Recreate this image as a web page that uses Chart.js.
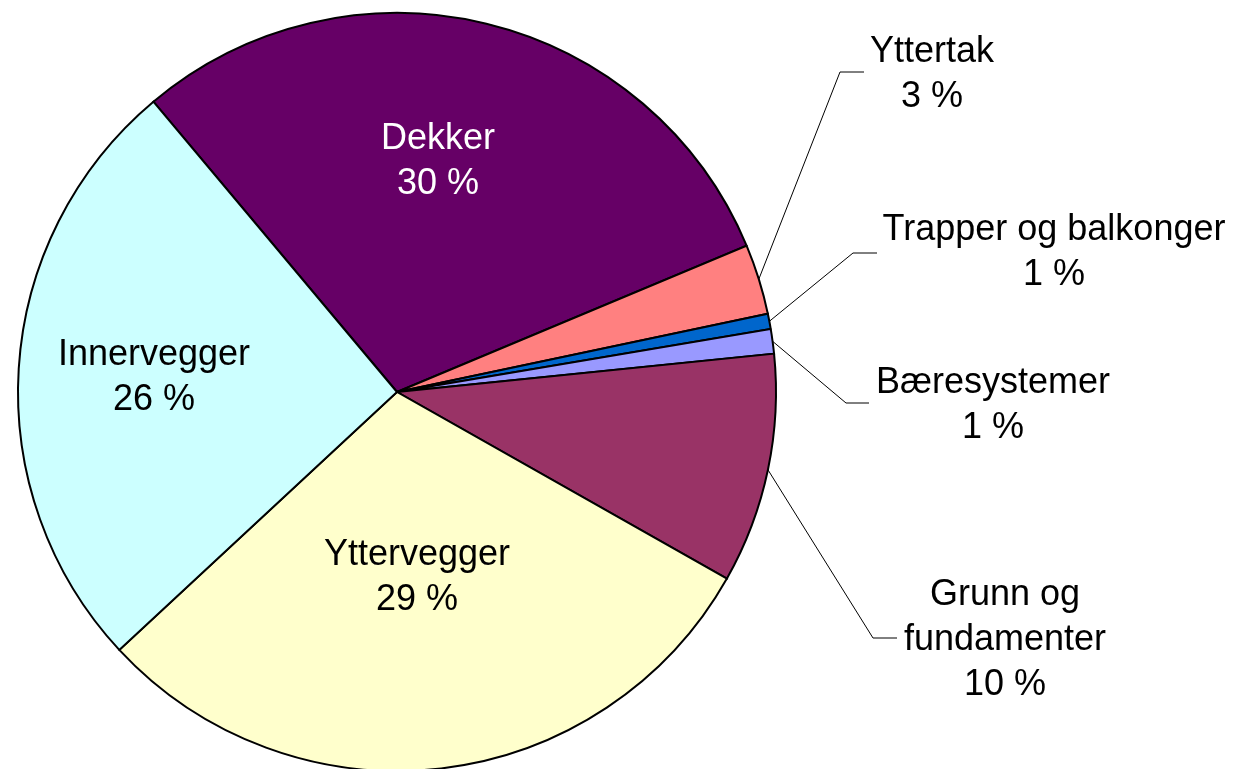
<!DOCTYPE html>
<html>
<head>
<meta charset="utf-8">
<script src="https://cdn.jsdelivr.net/npm/chart.js@4/dist/chart.umd.min.js"></script>
<style>
  html, body { margin: 0; padding: 0; background: #fff; overflow: hidden; }
  #wrap { position: absolute; left: 0; top: 0; width: 1238px; height: 772px; }
</style>
</head>
<body>
<div id="wrap"><canvas id="pie"></canvas></div>
<script>
// slices, clockwise from the Dekker slice
const labels = ['Dekker', 'Yttertak', 'Trapper og balkonger', 'Bæresystemer', 'Grunn og fundamenter', 'Yttervegger', 'Innervegger'];
const values = [29.8, 3.0, 0.65, 1.05, 9.8, 29.9, 25.8];
const pctText = ['30 %', '3 %', '1 %', '1 %', '10 %', '29 %', '26 %'];
const colors = ['#660066', '#FF8080', '#0066CC', '#9999FF', '#993366', '#FFFFCC', '#CCFFFF'];

// label placement: lines, centre x, first baseline, text colour, optional leader (elbow + stub end)
const labelLayout = [
  { lines: ['Dekker'], x: 438, y: 149, color: '#fff' },
  { lines: ['Yttertak'], x: 932, y: 62, leader: [[840, 72], [864, 72]] },
  { lines: ['Trapper og balkonger'], x: 1054, y: 240, leader: [[853, 253], [877, 253]] },
  { lines: ['Bæresystemer'], x: 993, y: 393, leader: [[846, 403], [869, 403]] },
  { lines: ['Grunn og', 'fundamenter'], x: 1005, y: 605, leader: [[873, 638], [897, 638]] },
  { lines: ['Yttervegger'], x: 417, y: 565 },
  { lines: ['Innervegger'], x: 154, y: 365 }
];

const pieLabels = {
  id: 'pieLabels',
  afterDatasetsDraw(chart) {
    const ctx = chart.ctx;
    const arcs = chart.getDatasetMeta(0).data;
    ctx.save();
    ctx.font = '36px "Liberation Sans", Arial, sans-serif';
    ctx.textAlign = 'center';
    ctx.textBaseline = 'alphabetic';
    labelLayout.forEach((l, i) => {
      if (l.leader) {
        const a = arcs[i];
        const mid = (a.startAngle + a.endAngle) / 2;
        const r = a.outerRadius;
        ctx.beginPath();
        ctx.moveTo(a.x + Math.cos(mid) * r, a.y + Math.sin(mid) * r);
        l.leader.forEach(p => ctx.lineTo(p[0], p[1]));
        ctx.strokeStyle = '#000';
        ctx.lineWidth = 1;
        ctx.stroke();
      }
      ctx.fillStyle = l.color || '#000';
      const lines = l.lines.concat([pctText[i]]);
      lines.forEach((t, k) => ctx.fillText(t, l.x, l.y + k * 45));
    });
    ctx.restore();
  }
};

new Chart(document.getElementById('pie'), {
  type: 'pie',
  data: {
    labels: labels,
    datasets: [{
      data: values,
      backgroundColor: colors,
      borderColor: '#000',
      borderWidth: 2,
      borderJoinStyle: 'miter',
      clip: false
    }]
  },
  options: {
    responsive: true,
    maintainAspectRatio: false,
    animation: false,
    rotation: 320,
    layout: { padding: { left: 17, right: 461, top: 12, bottom: 0 } },
    plugins: {
      legend: { display: false },
      tooltip: { enabled: false }
    }
  },
  plugins: [pieLabels]
});
</script>
</body>
</html>
